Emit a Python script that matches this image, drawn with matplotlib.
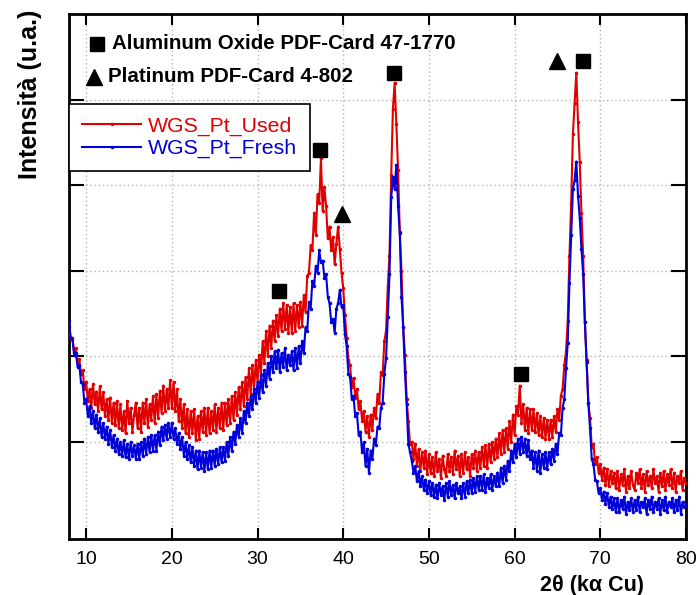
import numpy as np
import matplotlib
matplotlib.use("Agg")
import matplotlib.pyplot as plt

plt.rcParams['font.family'] = ['Liberation Sans', 'DejaVu Sans']

# 2-theta scan, 8..80 deg in 0.2 deg steps
two_theta = np.round(np.arange(8.0, 80.0001, 0.2), 1)

used = [
    335, 320, 322, 305, 310, 293, 297, 280, 284, 262,
    270, 248, 262, 240, 268, 244, 259, 236, 265, 238,
    258, 230, 250, 226, 252, 222, 246, 220, 248, 216,
    244, 214, 236, 210, 248, 222, 240, 212, 232, 246,
    216, 240, 212, 246, 222, 250, 218, 244, 226, 254,
    222, 256, 228, 260, 234, 266, 236, 262, 240, 272,
    240, 270, 236, 262, 224, 250, 216, 244, 210, 238,
    206, 236, 210, 238, 202, 230, 204, 236, 212, 240,
    208, 240, 210, 236, 214, 244, 212, 240, 216, 246,
    214, 246, 220, 250, 222, 254, 226, 258, 232, 264,
    238, 270, 242, 276, 250, 286, 256, 290, 262, 296,
    270, 302, 280, 318, 292, 330, 300, 336, 310, 342,
    318, 348, 324, 356, 330, 362, 332, 360, 328, 358,
    328, 362, 330, 360, 334, 364, 336, 372, 352, 394,
    398, 430, 424, 468, 442, 490, 480, 532, 470, 498,
    476, 438, 452, 424, 440, 408, 432, 452, 426, 398,
    380, 348, 322, 296, 290, 264, 275, 252, 262, 238,
    248, 225, 236, 212, 230, 206, 232, 214, 240, 228,
    256, 245, 282, 278, 318, 330, 382, 418, 512, 590,
    620, 572, 518, 446, 400, 335, 302, 250, 224, 198,
    200, 180, 198, 172, 192, 166, 188, 170, 190, 162,
    186, 164, 182, 160, 188, 166, 180, 158, 184, 168,
    160, 186, 166, 182, 162, 190, 168, 184, 160, 186,
    164, 188, 168, 182, 160, 186, 170, 190, 166, 188,
    170, 194, 172, 196, 170, 198, 176, 200, 180, 204,
    182, 210, 186, 214, 188, 216, 192, 224, 200, 232,
    208, 242, 232, 266, 222, 244, 214, 240, 210, 238,
    214, 238, 212, 234, 208, 230, 206, 228, 204, 226,
    204, 226, 206, 230, 212, 238, 226, 254, 262, 290,
    306, 342, 418, 480, 560, 596, 632, 574, 528, 468,
    418, 340, 296, 246, 228, 194, 198, 174, 182, 164,
    174, 156, 170, 150, 168, 148, 166, 152, 164, 146,
    166, 144, 162, 150, 168, 142, 160, 146, 166, 150,
    144, 164, 152, 168, 146, 162, 142, 166, 150, 160,
    146, 168, 152, 160, 142, 164, 148, 166, 144, 162,
    150, 168, 146, 164, 142, 160, 152, 166, 144, 158,
    152,
]

fresh = [
    342, 322, 320, 302, 304, 288, 290, 270, 268, 246,
    250, 230, 242, 222, 236, 216, 232, 212, 228, 206,
    222, 204, 218, 198, 214, 194, 208, 190, 204, 186,
    200, 184, 202, 182, 198, 180, 200, 184, 196, 180,
    198, 180, 200, 184, 204, 186, 206, 188, 208, 190,
    208, 190, 212, 196, 218, 202, 220, 204, 222, 206,
    222, 204, 216, 198, 210, 192, 206, 184, 200, 180,
    196, 176, 194, 172, 190, 168, 190, 170, 188, 166,
    188, 168, 190, 170, 190, 172, 192, 174, 194, 176,
    194, 178, 200, 184, 206, 190, 212, 198, 220, 206,
    228, 210, 236, 222, 246, 230, 254, 238, 262, 246,
    270, 252, 278, 258, 284, 266, 292, 274, 300, 282,
    306, 286, 308, 282, 304, 288, 310, 284, 302, 290,
    306, 284, 310, 286, 312, 292, 318, 304, 334, 330,
    364, 356, 388, 382, 406, 398, 424, 410, 412, 392,
    396, 370, 362, 340, 344, 328, 356, 362, 378, 358,
    360, 326, 312, 280, 276, 250, 254, 230, 234, 208,
    212, 188, 200, 172, 192, 164, 190, 180, 204, 196,
    218, 216, 240, 246, 280, 298, 346, 396, 486, 510,
    496, 524, 476, 444, 370, 334, 282, 244, 198, 188,
    178, 164, 172, 154, 166, 148, 160, 144, 156, 140,
    154, 138, 152, 136, 150, 134, 152, 138, 148, 132,
    152, 136, 154, 138, 150, 134, 152, 140, 148, 134,
    152, 136, 154, 140, 156, 140, 158, 142, 160, 144,
    160, 144, 162, 142, 158, 146, 162, 144, 160, 148,
    164, 148, 170, 152, 172, 156, 178, 166, 190, 176,
    198, 182, 204, 186, 206, 188, 204, 184, 202, 180,
    190, 170, 188, 166, 190, 164, 186, 170, 188, 168,
    188, 174, 192, 178, 198, 186, 210, 208, 240, 250,
    286, 316, 386, 442, 496, 506, 528, 488, 462, 426,
    396, 340, 294, 246, 216, 180, 174, 156, 154, 140,
    146, 132, 142, 128, 140, 124, 136, 122, 134, 118,
    134, 118, 132, 122, 136, 116, 130, 120, 134, 118,
    132, 120, 136, 118, 130, 124, 134, 116, 132, 122,
    136, 118, 130, 122, 134, 116, 132, 120, 136, 118,
    130, 124, 134, 118, 132, 120, 136, 116, 130, 124,
    126,
]

# Reflection markers
alumina_x = [32.5, 37.3, 45.9, 60.75, 68.0]
alumina_y = [377, 542, 632, 280, 646]
platinum_x = [39.9, 65.0]
platinum_y = [467, 646]

x_ticks = [10, 20, 30, 40, 50, 60, 70, 80]
y_ticks = [200, 300, 400, 500, 600]

RED = '#e00000'
BLUE = '#0000d8'

fig = plt.figure(figsize=(7.0, 5.95), dpi=100)
ax = fig.add_axes([69 / 700, 1 - 539 / 595, (686 - 69) / 700, (539 - 14) / 595])

ax.plot(two_theta, used, color=RED, lw=1.5, marker='.', ms=3, label='WGS_Pt_Used', zorder=3)
ax.plot(two_theta, fresh, color=BLUE, lw=1.5, marker='.', ms=3, label='WGS_Pt_Fresh', zorder=4)

ax.plot(alumina_x, alumina_y, ls='none', marker='s', ms=9.5, color='black', zorder=5)
ax.plot(platinum_x, platinum_y, ls='none', marker='^', ms=11, color='black', zorder=5)

ax.set_xlim(8, 80)
ax.set_ylim(86.5, 700.6)
ax.set_xticks(x_ticks)
ax.set_yticks(y_ticks)
ax.set_yticklabels([])
ax.grid(True, color='#b4b4b4', linestyle=(0, (1, 2)), linewidth=1.0)
ax.set_axisbelow(True)

ax.tick_params(axis='x', direction='in', length=8, width=1.5, top=True,
               labelsize=14, pad=9)
ax.tick_params(axis='y', direction='in', length=11, width=1.5, right=True)
for s in ax.spines.values():
    s.set_linewidth(2)

# Phase key at top-left
ax.plot([11.3], [666], ls='none', marker='s', ms=10, color='black', clip_on=False)
ax.text(13.0, 666, 'Aluminum Oxide PDF-Card 47-1770', fontsize=14.8,
        fontweight='bold', va='center', ha='left')
ax.plot([10.9], [627], ls='none', marker='^', ms=12, color='black', clip_on=False)
ax.text(12.6, 627, 'Platinum PDF-Card 4-802', fontsize=14.8,
        fontweight='bold', va='center', ha='left')

leg = ax.legend(loc='upper left', bbox_to_anchor=(0.0, (539 - 104) / 525),
                fontsize=15.3, frameon=True, fancybox=False, framealpha=1,
                edgecolor='black', handlelength=2.8, handletextpad=0.3,
                borderpad=0.6, labelspacing=0.15, borderaxespad=0,
                labelcolor='linecolor')
leg.get_frame().set_linewidth(1.2)

fig.text(30 / 700, 1 - 94 / 595, 'Intensità (u.a.)', rotation=90, fontsize=18,
         fontweight='bold', ha='center', va='center')
fig.text(592 / 700, 1 - 586 / 595, '2θ (kα Cu)', fontsize=15.5,
         fontweight='bold', ha='center', va='center')

fig.savefig('out.png', dpi=100)
